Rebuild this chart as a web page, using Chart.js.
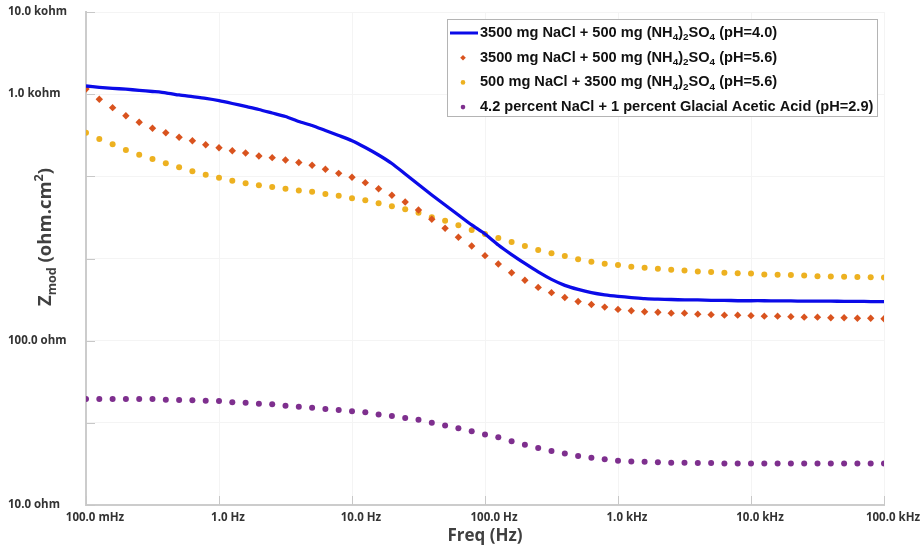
<!DOCTYPE html>
<html>
<head>
<meta charset="utf-8">
<script src="https://cdn.jsdelivr.net/npm/chart.js@4.4.1/dist/chart.umd.min.js"></script>
<style>
  html, body { margin: 0; padding: 0; background: #fff; }
</style>
</head>
<body>
<canvas id="chart" width="920" height="549"></canvas>
<script>
// sweep frequencies (Hz), 10 points per decade
const freq = [
  0.1, 0.1259, 0.1585, 0.1995, 0.2512, 0.3162, 0.3981, 0.5012, 0.631, 0.7943,
  1, 1.259, 1.585, 1.995, 2.512, 3.162, 3.981, 5.012, 6.31, 7.943,
  10, 12.59, 15.85, 19.95, 25.12, 31.62, 39.81, 50.12, 63.1, 79.43,
  100, 125.9, 158.5, 199.5, 251.2, 316.2, 398.1, 501.2, 631, 794.3,
  1000, 1259, 1585, 1995, 2512, 3162, 3981, 5012, 6310, 7943,
  10000, 12590, 15850, 19950, 25120, 31620, 39810, 50120, 63100, 79430, 100000
];

// |Z| in ohm.cm2
const zNaCl3500_pH40 = [
  3545, 3481, 3433, 3390, 3339, 3283, 3224, 3126, 3052, 2977,
  2886, 2775, 2661, 2551, 2429, 2313, 2157, 2039, 1901, 1772,
  1648, 1498, 1349, 1197, 1033, 892, 770, 669, 582, 506,
  446, 382, 334, 295, 262, 236, 217, 205, 196, 190,
  186, 183, 180, 179, 178, 177, 177, 176, 176, 175,
  175, 175, 174.7, 174.5, 174, 174, 174, 173.5, 173.5, 173, 173
];
const zNaCl3500_pH56 = [
  3401, 2943, 2617, 2339, 2133, 1961, 1843, 1728, 1648, 1558,
  1494, 1432, 1387, 1330, 1299, 1257, 1214, 1168, 1104, 1043,
  987, 915, 841, 767, 698, 624, 548, 483, 426, 377,
  329, 293, 259, 233, 211, 196, 183, 173, 166, 160,
  155, 152, 150, 149, 147, 147, 145, 144, 143, 143,
  142, 141, 141, 140, 139, 139, 138, 138, 137, 137, 136
];
const zNaCl500_pH56 = [
  1843, 1687, 1567, 1447, 1354, 1275, 1200, 1135, 1073, 1023,
  981, 941, 907, 882, 861, 841, 820, 806, 781, 762,
  735, 715, 685, 657, 630, 601, 563, 537, 504, 472,
  446, 422, 399, 377, 356, 340, 327, 313, 302, 294,
  289, 282, 278, 274, 270, 267, 264, 262, 259, 257,
  256, 253, 252, 251, 249, 247, 246, 245, 244, 243, 242
];
const zAcetic_pH29 = [
  44.2, 44.2, 44.2, 44.2, 44.2, 44.2, 43.7, 43.5, 43.4, 43.1,
  42.9, 42.2, 41.9, 41.3, 41.0, 40.2, 39.6, 39.1, 38.4, 37.9,
  37.2, 36.7, 35.6, 34.8, 33.8, 33.0, 31.7, 30.5, 29.3, 28.1,
  26.9, 25.8, 24.4, 23.3, 22.2, 21.3, 20.6, 19.9, 19.4, 19.0,
  18.6, 18.4, 18.3, 18.2, 18.1, 18.1, 18.0, 18.0, 17.9, 17.9,
  17.9, 17.9, 17.9, 17.9, 17.9, 17.9, 17.9, 17.9, 17.9, 17.9, 17.9
];

// "_x" / "_{..}" = subscript, "^x" = superscript
const seriesLabels = [
  "3500 mg NaCl + 500 mg (NH_4)_2SO_4 (pH=4.0)",
  "3500 mg NaCl + 500 mg (NH_4)_2SO_4 (pH=5.6)",
  "500 mg NaCl + 3500 mg (NH_4)_2SO_4 (pH=5.6)",
  "4.2 percent NaCl + 1 percent Glacial Acetic Acid (pH=2.9)"
];

const xTickValues = [0.1, 1, 10, 100, 1000, 10000, 100000];
const xTickLabels = ["100.0 mHz", "1.0 Hz", "10.0 Hz", "100.0 Hz", "1.0 kHz", "10.0 kHz", "100.0 kHz"];
const yTickValues = [10, 31.62, 100, 316.2, 1000, 3162, 10000];
const yTickLabels = ["10.0 ohm", "", "100.0 ohm", "", "", "1.0 kohm", "10.0 kohm"];

const xTitle = "Freq (Hz)";
const yTitle = "Z_{mod} (ohm.cm^2)";

const FONT = "'Open Sans', 'Liberation Sans', sans-serif";

function richParts(str) {
  const parts = [];
  let buf = "";
  for (let i = 0; i < str.length; i++) {
    const c = str[i];
    if ((c === "_" || c === "^") && i + 1 < str.length) {
      if (buf) parts.push({ t: buf, s: 0 });
      buf = "";
      let t;
      if (str[i + 1] === "{") {
        const end = str.indexOf("}", i);
        t = str.slice(i + 2, end);
        i = end;
      } else {
        t = str[i + 1];
        i++;
      }
      parts.push({ t, s: c === "_" ? -1 : 1 });
    } else buf += c;
  }
  if (buf) parts.push({ t: buf, s: 0 });
  return parts;
}

function richWidth(ctx, parts, size, family) {
  let w = 0;
  for (const p of parts) {
    ctx.font = `bold ${p.s ? size * 0.68 : size}px ${family}`;
    w += ctx.measureText(p.t).width;
  }
  return w;
}

function drawRich(ctx, parts, x, y, size, family) {
  let cx = x;
  for (const p of parts) {
    const fs = p.s ? size * 0.68 : size;
    ctx.font = `bold ${fs}px ${family}`;
    const dy = p.s < 0 ? size * 0.32 : p.s > 0 ? -size * 0.38 : 0;
    ctx.fillText(p.t, cx, y + dy);
    cx += ctx.measureText(p.t).width;
  }
}

const toPoints = ys => freq.map((f, i) => ({ x: f, y: ys[i] }));

// inner tick marks, rotated y title and the boxed legend
const decorations = {
  id: "decorations",
  beforeDatasetsDraw(chart) {
    const { ctx, chartArea: a, scales: { x, y } } = chart;
    ctx.save();
    ctx.strokeStyle = "#c8c8c8";
    ctx.lineWidth = 1;
    ctx.beginPath();
    yTickValues.forEach(v => {
      const py = Math.round(y.getPixelForValue(v)) + 0.5;
      ctx.moveTo(a.left, py);
      ctx.lineTo(a.left + 9, py);
    });
    xTickValues.forEach(v => {
      const px = Math.round(x.getPixelForValue(v)) + 0.5;
      ctx.moveTo(px, a.bottom);
      ctx.lineTo(px, a.bottom - 9);
    });
    ctx.stroke();
    ctx.restore();
  },
  afterDraw(chart) {
    const { ctx } = chart;
    ctx.save();

    // y title
    const parts = richParts(yTitle);
    const size = 18.5;
    ctx.fillStyle = "#404040";
    ctx.textBaseline = "middle";
    ctx.textAlign = "left";
    const w = richWidth(ctx, parts, size, FONT);
    ctx.translate(46, 237);
    ctx.rotate(-Math.PI / 2);
    drawRich(ctx, parts, -w / 2, 0, size, FONT);
    ctx.setTransform(1, 0, 0, 1, 0, 0);

    // legend
    const bx = 447.5, by = 19.5, bw = 430, bh = 97;
    ctx.fillStyle = "#ffffff";
    ctx.fillRect(bx, by, bw, bh);
    ctx.strokeStyle = "#b4b4b4";
    ctx.lineWidth = 1;
    ctx.strokeRect(bx, by, bw, bh);

    const lfont = "'Liberation Sans', Arial, sans-serif";
    chart.data.datasets.forEach((ds, i) => {
      const ry = 33 + i * 24.7;
      if (ds.showLine === false) {
        ctx.fillStyle = ds.backgroundColor;
        ctx.strokeStyle = ds.backgroundColor;
        Chart.helpers.drawPoint(ctx, {
          pointStyle: ds.pointStyle, radius: ds.pointStyle === "rectRot" ? 2.8 : 2.3,
          rotation: 0, borderWidth: 0
        }, 463, ry);
      } else {
        ctx.strokeStyle = ds.borderColor;
        ctx.lineWidth = 3;
        ctx.beginPath();
        ctx.moveTo(450, ry);
        ctx.lineTo(478, ry);
        ctx.stroke();
      }
      ctx.fillStyle = "#111111";
      ctx.textBaseline = "middle";
      drawRich(ctx, richParts(ds.label), 480, ry, 14.6, lfont);
    });
    ctx.restore();
  }
};

const tickFont = { family: FONT, size: 11.5, weight: "bold" };
const gridStyle = { color: "#f4f4f4", drawTicks: false };
const borderStyle = { color: "#cccccc", width: 2 };

new Chart(document.getElementById("chart"), {
  type: "line",
  data: {
    datasets: [
      {
        label: seriesLabels[0],
        data: toPoints(zNaCl3500_pH40),
        borderColor: "#0b0be8",
        borderWidth: 3.3,
        pointRadius: 0,
        tension: 0.2,
        order: 0
      },
      {
        label: seriesLabels[1],
        data: toPoints(zNaCl3500_pH56),
        showLine: false,
        pointStyle: "rectRot",
        pointRadius: 3.7,
        backgroundColor: "#d9531e",
        borderColor: "#d9531e",
        borderWidth: 0,
        order: 2
      },
      {
        label: seriesLabels[2],
        data: toPoints(zNaCl500_pH56),
        showLine: false,
        pointStyle: "circle",
        pointRadius: 3,
        backgroundColor: "#edb120",
        borderColor: "#edb120",
        borderWidth: 0,
        order: 3
      },
      {
        label: seriesLabels[3],
        data: toPoints(zAcetic_pH29),
        showLine: false,
        pointStyle: "circle",
        pointRadius: 3,
        backgroundColor: "#7e2f8e",
        borderColor: "#7e2f8e",
        borderWidth: 0,
        order: 4
      }
    ]
  },
  options: {
    responsive: false,
    animation: false,
    layout: { padding: { left: 8, right: 36, top: 12, bottom: 0 } },
    plugins: { legend: { display: false }, tooltip: { enabled: false } },
    scales: {
      x: {
        type: "logarithmic",
        min: 0.1,
        max: 100000,
        afterBuildTicks: s => { s.ticks = xTickValues.map(v => ({ value: v })); },
        afterFit: s => { s.height = 44; },
        ticks: {
          callback: (v, i) => xTickLabels[i],
          font: tickFont,
          color: "#333333",
          padding: 6,
          labelOffset: 9,
          maxRotation: 0,
          autoSkip: false
        },
        grid: gridStyle,
        border: borderStyle,
        title: {
          display: true,
          text: xTitle,
          font: { family: FONT, size: 17, weight: "bold" },
          color: "#404040",
          padding: { top: 0, bottom: 3 }
        }
      },
      y: {
        type: "logarithmic",
        min: 10,
        max: 10000,
        afterBuildTicks: s => { s.ticks = yTickValues.map(v => ({ value: v })); },
        afterFit: s => { s.width = 78; },
        ticks: {
          callback: (v, i) => yTickLabels[i],
          font: tickFont,
          color: "#333333",
          crossAlign: "far",
          autoSkip: false
        },
        grid: gridStyle,
        border: borderStyle
      }
    }
  },
  plugins: [decorations]
});
</script>
</body>
</html>
